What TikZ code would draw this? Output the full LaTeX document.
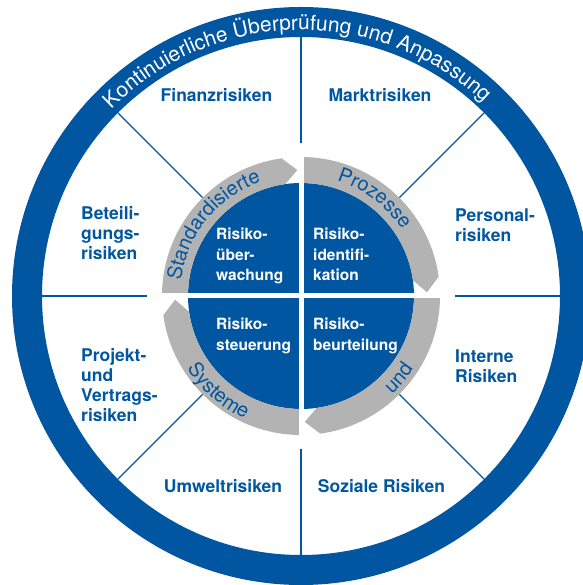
\documentclass[tikz,border=0pt]{standalone}
\usepackage{fontspec}
\setmainfont{TeX Gyre Heros}
\usetikzlibrary{decorations.text}
\definecolor{rblue}{RGB}{0,86,161}
\definecolor{rgray}{RGB}{179,179,179}
\newcommand\lblfont{\fontsize{17.5pt}{20pt}\selectfont\bfseries}
\newcommand\infont{\fontsize{15.5pt}{20.5pt}\selectfont\bfseries}
\newcommand\arcfnt{\fontsize{20pt}{20pt}\selectfont}
\newcommand\ringfnt{\fontsize{21pt}{21pt}\selectfont}
\begin{document}
\begin{tikzpicture}[x=1pt,y=1pt,
  risk/.style={text=rblue, font=\lblfont, align=left, inner sep=0pt},
  innertxt/.style={text=white, font=\infont, align=left, inner sep=0pt},
  spoke/.style={draw=rblue, line width=1.2pt},
  garrow/.style={fill=rgray},
]
\useasboundingbox (-301,-289) rectangle (281,296);
% outer ring
\draw[rblue, line width=30pt] (0,0) circle[radius=274];
% spokes
\foreach \ang/\ri in {0/154,90/153,180/154,270/153,45/139,135/139,225/139,315/139}
  \draw[spoke] (\ang:\ri) -- (\ang:259);
% blue disk
\fill[rblue] (0,0) circle[radius=113];
% gray arrows
\foreach \a in {180,90,0,-90} {
  \pgfmathsetmacro\e{\a-82}
  \pgfmathsetmacro\t{\a-88.3}
  \fill[garrow] (\a:139) arc[start angle=\a, end angle=\e, radius=139]
     -- (\t:126) -- (\e:113) arc[start angle=\e, end angle=\a, radius=113] -- cycle;
}
% white gaps
\fill[white] (-2.5,-141) rectangle (2.5,141);
\fill[white] (-141,-2.5) rectangle (141,2.5);
% ring text
\path[decorate, decoration={text along path,
  text={|\ringfnt\color{white}|Kontinuierliche Überprüfung und Anpassung},
  text align=center}]
  (151:266) arc[start angle=151, end angle=31, radius=266];
% arc texts
\path[decorate, decoration={text along path,
  text={|\arcfnt\color{rblue}|Standardisierte}, text align=center}]
  (181:121) arc[start angle=181, end angle=101, radius=121];
\path[decorate, decoration={text along path,
  text={|\arcfnt\color{rblue}|Prozesse}, text align=center}]
  (93:121) arc[start angle=93, end angle=13, radius=121];
\path[decorate, decoration={text along path,
  text={|\arcfnt\color{rblue}|Systeme}, text align=center}]
  (189:135) arc[start angle=189, end angle=269, radius=135];
\path[decorate, decoration={text along path,
  text={|\arcfnt\color{rblue}|und}, text align=center}]
  (280:134) arc[start angle=280, end angle=360, radius=134];
% risk labels (base anchor = baseline of the last line)
\node[risk, anchor=base] (fin) at (-84.5,194) {Finanzrisiken};
\node[risk, anchor=base] (markt) at (79,194) {Marktrisiken};
\node[risk, anchor=base west] (pers) at (154,54) {Personal-\\risiken};
\node[risk, anchor=base west] (bet) at (-220,36) {Beteili-\\gungs-\\risiken};
\node[risk, anchor=base west] (proj) at (-220,-125) {Projekt-\\und\\Vertrags-\\risiken};
\node[risk, anchor=base west] (int) at (154,-86) {Interne\\Risiken};
\node[risk, anchor=base] (umw) at (-78,-196) {Umweltrisiken};
\node[risk, anchor=base] (soz) at (80.5,-196) {Soziale Risiken};
% inner labels
\node[innertxt, anchor=base west] (ueb) at (-85,15) {Risiko-\\über-\\wachung};
\node[innertxt, anchor=base west] (ident) at (12,15) {Risiko-\\identifi-\\kation};
\node[innertxt, anchor=base west] (steu) at (-85,-54.5) {Risiko-\\steuerung};
\node[innertxt, anchor=base west] (beur) at (12,-54.5) {Risiko-\\beurteilung};
\end{tikzpicture}
\end{document}
